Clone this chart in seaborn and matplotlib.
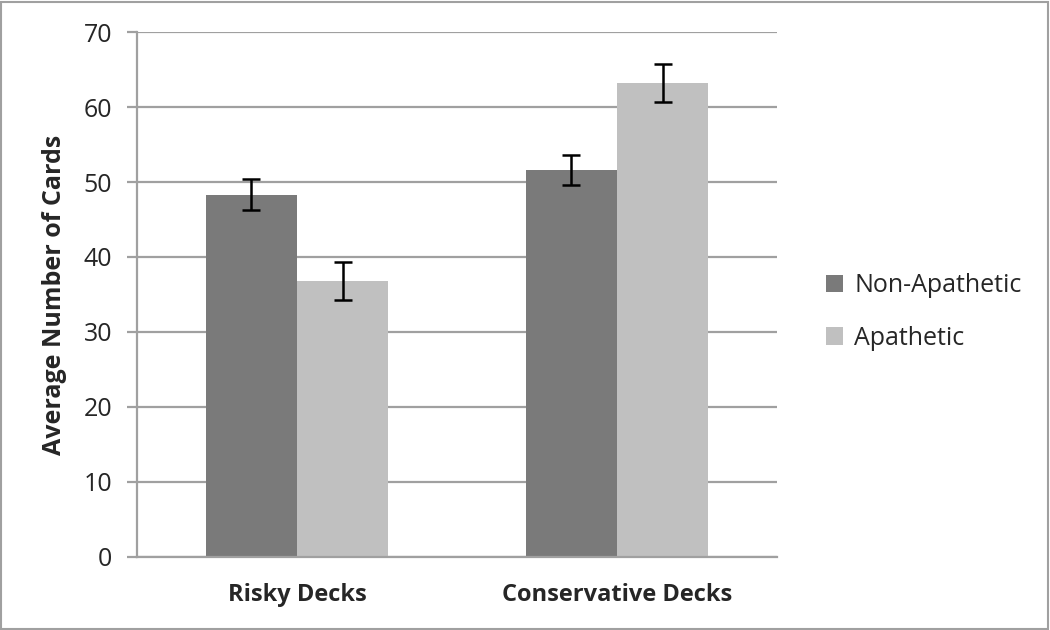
import matplotlib
matplotlib.use("Agg")
import matplotlib.pyplot as plt
import seaborn as sns
import pandas as pd
import numpy as np
from matplotlib.patches import Rectangle, Patch

categories = ["Risky Decks", "Conservative Decks"]
groups = ["Non-Apathetic", "Apathetic"]
non_apathetic = [48.3, 51.6]
apathetic = [36.8, 63.2]
err_non_apathetic = [2.05, 2.0]
err_apathetic = [2.5, 2.5]
y_ticks = [0, 10, 20, 30, 40, 50, 60, 70]

colors = {"Non-Apathetic": "#7a7a7a", "Apathetic": "#c0c0c0"}

df = pd.DataFrame({
    "Deck": categories * 2,
    "Group": [groups[0]] * 2 + [groups[1]] * 2,
    "Value": non_apathetic + apathetic,
    "Err": err_non_apathetic + err_apathetic,
})

sns.set_style("white")
plt.rcParams["font.family"] = ["Open Sans", "DejaVu Sans"]

fig = plt.figure(figsize=(10.5, 6.3), dpi=100)
ax = fig.add_axes([0.1305, 0.1163, 0.7400 - 0.1305, 0.949 - 0.1163])

sns.barplot(data=df, x="Deck", y="Value", hue="Group", order=categories,
            hue_order=groups, palette=colors, width=0.57, errorbar=None,
            saturation=1, ax=ax, legend=False, linewidth=0)

# error bars from bar patches
for cont, errs in zip(ax.containers, [err_non_apathetic, err_apathetic]):
    for bar, e in zip(cont, errs):
        cx = bar.get_x() + bar.get_width() / 2
        ax.errorbar(cx, bar.get_height(), yerr=e, fmt="none", ecolor="black",
                    elinewidth=1.8, capsize=6.5, capthick=1.8, zorder=5)

ax.set_ylim(0, 70)
ax.set_xlim(-0.5, 1.5)
ax.set_yticks(y_ticks)
ax.set_yticklabels([str(t) for t in y_ticks], fontsize=18)
ax.yaxis.grid(True, color="#a0a0a0", linewidth=1.6)
ax.set_axisbelow(True)

ax.set_xticks([0, 1])
ax.set_xticklabels(categories, fontsize=17, fontweight="bold")
ax.set_xticks([-0.5, 0.5, 1.5], minor=True)
ax.tick_params(axis="x", which="major", length=0, pad=19)
ax.tick_params(axis="x", which="minor", length=9, color="#a0a0a0", width=1.6, direction="out")
ax.tick_params(axis="y", which="major", length=7, color="#a0a0a0", width=1.6,
               direction="out", pad=11, left=True)

ax.set_xlabel("")
ax.set_ylabel("Average Number of Cards", fontsize=18, fontweight="bold", labelpad=12)

for s in ["top", "right"]:
    ax.spines[s].set_visible(False)
for s in ["left", "bottom"]:
    ax.spines[s].set_color("#a0a0a0")
    ax.spines[s].set_linewidth(1.6)

handles = [Patch(facecolor=colors[g], edgecolor="none") for g in groups]
fig.legend(handles, groups, loc="center left", bbox_to_anchor=(0.765, 0.505),
           frameon=False, fontsize=18, handlelength=0.7, handleheight=0.7,
           handletextpad=0.45, labelspacing=1.1)

fig.patches.append(Rectangle((0.001, 0.002), 0.997, 0.995, transform=fig.transFigure,
                             fill=False, edgecolor="#a0a0a0", linewidth=1.5))

fig.savefig("out.png", dpi=100, facecolor="white")
